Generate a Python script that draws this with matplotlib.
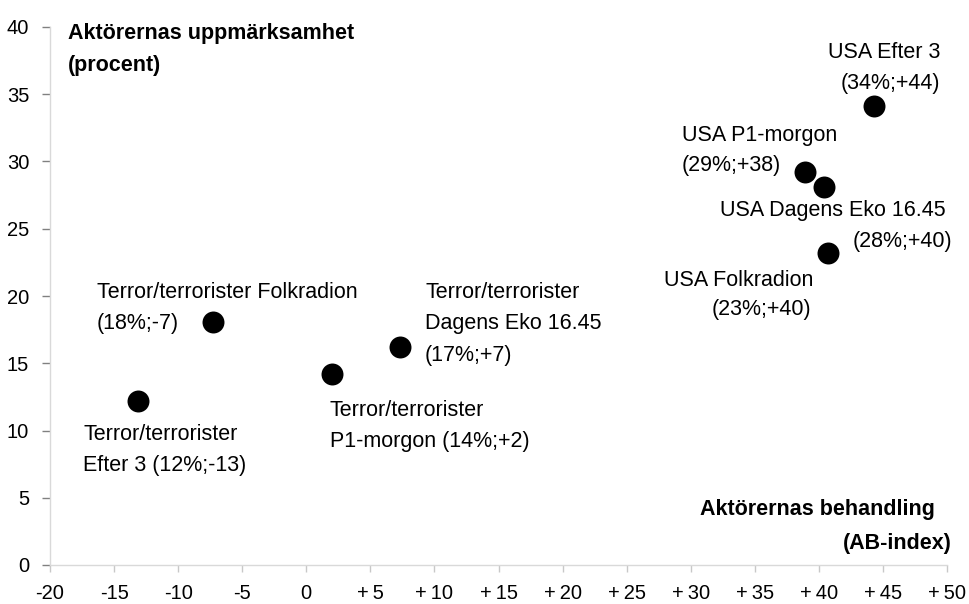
import matplotlib
matplotlib.use("Agg")
import matplotlib.pyplot as plt

# Data
names = ["Terror/terrorister Efter 3", "Terror/terrorister Folkradion",
         "Terror/terrorister P1-morgon", "Terror/terrorister Dagens Eko 16.45",
         "USA Efter 3", "USA P1-morgon", "USA Dagens Eko 16.45", "USA Folkradion"]
ab_index = [-13.1, -7.3, 2.0, 7.3, 44.3, 38.9, 40.4, 40.7]
attention = [12.2, 18.1, 14.2, 16.2, 34.1, 29.2, 28.1, 23.2]

xticks = list(range(-20, 51, 5))
xticklabels = [("+\u2009%d" % v if v > 0 else "%d" % v) for v in xticks]
yticks = list(range(0, 41, 5))

W, H = 969, 604
plt.rcParams['font.family'] = ['Liberation Sans', 'DejaVu Sans']
fig = plt.figure(figsize=(W / 100, H / 100), dpi=100)
ax = fig.add_axes([50 / W, 1 - 565 / H, (947 - 50) / W, (565 - 27) / H])

ax.scatter(ab_index, attention, s=250, color='black', zorder=3, linewidths=0)

ax.set_xlim(-20, 50)
ax.set_ylim(0, 40)
ax.set_xticks(xticks)
ax.set_xticklabels(xticklabels)
ax.set_yticks(yticks)
for s in ['top', 'right']:
    ax.spines[s].set_visible(False)
for s in ['left', 'bottom']:
    ax.spines[s].set_color('#d9d9d9')
    ax.spines[s].set_linewidth(1.0)
ax.tick_params(axis='x', colors='#c8c8c8', length=5, width=1, labelsize=14.5,
               labelcolor='black', pad=9)
ax.tick_params(axis='y', colors='#808080', length=6, width=1, labelsize=14.5,
               labelcolor='black', pad=9)

# labels: (text, px_left_or_right, py_center, ha)
labels = [
    ("USA Efter 3", 940, 50, 'right'),
    ("(34%;+44)", 940, 82, 'right'),
    ("USA P1-morgon", 682, 133, 'left'),
    ("(29%;+38)", 682, 163, 'left'),
    ("USA Dagens Eko 16.45", 720, 208, 'left'),
    ("(28%;+40)", 952, 240, 'right'),
    ("USA Folkradion", 664, 278, 'left'),
    ("(23%;+40)", 811, 308, 'right'),
    ("Terror/terrorister Folkradion", 97, 290, 'left'),
    ("(18%;-7)", 97, 322, 'left'),
    ("Terror/terrorister", 83, 433, 'left'),
    ("Efter 3 (12%;-13)", 83, 463, 'left'),
    ("Terror/terrorister", 330, 408, 'left'),
    ("P1-morgon (14%;+2)", 330, 440, 'left'),
    ("Terror/terrorister", 425, 290, 'left'),
    ("Dagens Eko 16.45", 425, 321, 'left'),
    ("(17%;+7)", 425, 354, 'left'),
]
for t, px, py, ha in labels:
    fig.text(px / W, 1 - (py + 7.5) / H, t, ha=ha, va='baseline', fontsize=15.5)

bold = [
    ("Aktörernas uppmärksamhet", 68, 32, 'left'),
    ("(procent)", 68, 63, 'left'),
    ("Aktörernas behandling", 935, 508, 'right'),
    ("(AB-index)", 952, 542, 'right'),
]
for t, px, py, ha in bold:
    fig.text(px / W, 1 - (py + 7.5) / H, t, ha=ha, va='baseline', fontsize=15.5,
             fontweight='bold')

fig.savefig("out.png", dpi=100)
